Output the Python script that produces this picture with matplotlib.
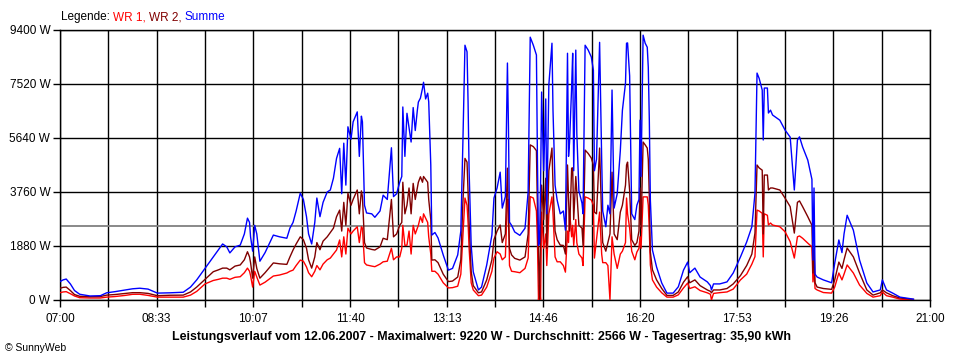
#!/usr/bin/env python3

import matplotlib.pyplot as plt

# Leistungsverlauf 12.06.2007, values (W)
TIMES = [
    "07:00", "07:03", "07:06", "07:10", "07:14", "07:19", "07:29", "07:39", "07:45", "07:53",
    "08:03", "08:10", "08:17", "08:25", "08:34", "08:46", "08:59", "09:06", "09:12", "09:20",
    "09:28", "09:33", "09:37", "09:41", "09:44", "09:49", "09:54", "09:58", "10:01", "10:03",
    "10:04", "10:06", "10:08", "10:10", "10:13", "10:18", "10:26", "10:32", "10:39", "10:42",
    "10:45", "10:48", "10:52", "10:55", "10:58", "11:00", "11:03", "11:06", "11:08", "11:11",
    "11:14", "11:18", "11:21", "11:24", "11:27", "11:30", "11:32", "11:34", "11:36", "11:38",
    "11:41", "11:43", "11:47", "11:49", "11:51", "11:52", "11:54", "11:56", "12:01", "12:04",
    "12:09", "12:12", "12:16", "12:20", "12:22", "12:25", "12:28", "12:30", "12:31", "12:33",
    "12:35", "12:37", "12:39", "12:41", "12:43", "12:45", "12:46", "12:48", "12:50", "12:51",
    "12:53", "12:55", "12:56", "12:58", "12:59", "13:02", "13:05", "13:10", "13:15", "13:19",
    "13:24", "13:27", "13:29", "13:31", "13:33", "13:34", "13:35", "13:37", "13:39", "13:44",
    "13:47", "13:52", "13:57", "13:59", "14:02", "14:05", "14:07", "14:10", "14:12", "14:13",
    "14:14", "14:16", "14:19", "14:24", "14:29", "14:32", "14:34", "14:37", "14:40", "14:41",
    "14:42", "14:43", "14:44", "14:45", "14:47", "14:49", "14:50", "14:52", "14:55", "14:56",
    "14:58", "15:00", "15:03", "15:06", "15:08", "15:10", "15:11", "15:12", "15:14", "15:15",
    "15:16", "15:18", "15:19", "15:21", "15:24", "15:25", "15:27", "15:30", "15:33", "15:35",
    "15:36", "15:38", "15:41", "15:43", "15:44", "15:47", "15:49", "15:51", "15:53", "15:55",
    "15:58", "16:01", "16:03", "16:06", "16:07", "16:08", "16:10", "16:12", "16:15", "16:17",
    "16:19", "16:20", "16:21", "16:23", "16:25", "16:27", "16:28", "16:29", "16:30", "16:32",
    "16:36", "16:41", "16:46", "16:52", "16:57", "17:02", "17:06", "17:08", "17:13", "17:18",
    "17:25", "17:28", "17:29", "17:31", "17:37", "17:44", "17:50", "17:57", "18:03", "18:08",
    "18:11", "18:13", "18:15", "18:18", "18:19", "18:20", "18:23", "18:24", "18:26", "18:28",
    "18:35", "18:40", "18:45", "18:49", "18:52", "18:54", "18:57", "19:02", "19:06", "19:07",
    "19:08", "19:09", "19:11", "19:17", "19:25", "19:28", "19:32", "19:35", "19:37", "19:40",
    "19:46", "19:52", "19:59", "20:05", "20:12", "20:14", "20:18", "20:24", "20:31", "20:44",
]

WR1 = [
    255, 280, 290, 220, 140, 80, 70, 70, 100, 120,
    160, 198, 200, 160, 100, 100, 100, 170, 300, 560,
    680, 720, 760, 760, 720, 790, 810, 950, 1110, 1000,
    850, 450, 1000, 800, 520, 620, 835, 870, 940, 1000,
    1040, 1200, 1390, 1350, 1150, 950, 810, 1000, 1200, 1050,
    1250, 1400, 1460, 1600, 1740, 2090, 1500, 2200, 1600, 2500,
    2300, 2400, 2550, 2000, 2550, 2500, 1300, 1220, 1180, 1160,
    1250, 1330, 1350, 1800, 1400, 1500, 1500, 1800, 2600, 1900,
    1910, 2400, 1600, 2600, 2300, 2500, 2600, 2900, 2700, 3000,
    2850, 2700, 2200, 1600, 1000, 1000, 900, 600, 420, 430,
    480, 900, 2200, 3550, 3300, 2700, 1800, 600, 350, 150,
    170, 450, 1000, 1460, 1680, 1600, 1400, 1500, 3500, 3500,
    1200, 1000, 985, 950, 1100, 1460, 3600, 3550, 3100, 2000,
    0, 500, 0, 3060, 1800, 2300, 1200, 3000, 3590, 3000,
    1500, 1330, 1330, 1200, 970, 2400, 2000, 3100, 2200, 2600,
    1900, 2800, 2000, 1600, 1460, 1200, 3590, 3550, 3480, 3300,
    1460, 2100, 3060, 1600, 1300, 1300, 1200, 0, 2200, 1600,
    1100, 1600, 1700, 2000, 3550, 3000, 2500, 1700, 1400, 1670,
    1800, 2200, 1800, 3590, 3590, 3590, 3300, 2400, 1220, 700,
    450, 250, 100, 100, 180, 420, 590, 400, 460, 330,
    250, 200, 0, 230, 255, 280, 380, 700, 900, 1250,
    1510, 3130, 3100, 3020, 1500, 3000, 2950, 2610, 2680, 2610,
    2550, 2380, 2030, 1460, 2200, 2230, 2150, 1980, 1850, 630,
    1100, 400, 350, 260, 240, 450, 940, 700, 900, 1220,
    940, 520, 230, 100, 150, 280, 150, 100, 30, 0,
]

WR2 = [
    407, 440, 450, 330, 190, 130, 115, 120, 170, 190,
    230, 255, 255, 230, 150, 165, 170, 280, 450, 720,
    985, 1050, 1110, 1110, 1050, 1180, 1220, 1400, 1680, 1500,
    1300, 760, 1500, 1100, 760, 950, 1290, 1260, 1240, 1500,
    1740, 1950, 2200, 2100, 1800, 1400, 1110, 1500, 2000, 1750,
    2050, 2200, 2350, 2500, 2900, 3130, 2400, 3400, 2600, 3720,
    3300, 3500, 3830, 3000, 3800, 3600, 2000, 1810, 1760, 1740,
    1850, 2150, 2100, 3500, 2200, 2300, 2600, 2700, 4100, 3000,
    3300, 3900, 3000, 4060, 3500, 3900, 4100, 4290, 4100, 4300,
    4200, 4100, 3500, 2800, 1390, 1400, 1300, 900, 640, 660,
    800, 1400, 3400, 4930, 4800, 3800, 2700, 1000, 500, 250,
    280, 700, 1400, 2100, 2400, 2610, 2000, 2300, 4590, 2800,
    1800, 1570, 1450, 1390, 1500, 2300, 5400, 5340, 5200, 3100,
    1500, 0, 2500, 4000, 2800, 4240, 1800, 4500, 5290, 4000,
    2400, 2100, 1910, 1900, 1600, 4700, 3500, 2400, 4590, 4600,
    2800, 4300, 3760, 2600, 2500, 1900, 5220, 5100, 4940, 4700,
    3060, 3000, 5290, 2800, 2000, 1700, 2000, 2300, 4450, 2300,
    2100, 3060, 3300, 4000, 4700, 4800, 3800, 2100, 1900, 2000,
    2400, 3900, 2500, 5500, 5400, 5290, 4900, 3600, 1670, 1050,
    700, 400, 160, 160, 280, 620, 810, 600, 700, 500,
    350, 300, 250, 350, 350, 400, 560, 850, 1200, 1600,
    2330, 4700, 4600, 4520, 2300, 4350, 4350, 3830, 3900, 3900,
    3830, 3550, 3250, 2330, 3400, 3450, 3250, 2900, 2600, 940,
    1800, 600, 450, 400, 370, 700, 1320, 1100, 1400, 1810,
    1500, 940, 350, 170, 250, 350, 250, 150, 70, 20,
]

SUMME = [
    640, 700, 730, 560, 330, 200, 140, 150, 250, 290,
    350, 390, 410, 380, 240, 250, 270, 450, 700, 1100,
    1500, 1750, 1950, 1850, 1640, 1850, 1910, 2300, 2850, 2700,
    2200, 1700, 2600, 2300, 1350, 1650, 2260, 2200, 2150, 2500,
    2700, 3100, 3720, 3500, 2900, 2300, 1950, 2700, 3550, 2900,
    3400, 3760, 3830, 4240, 4930, 5280, 3700, 5460, 4000, 6030,
    5600, 6200, 6550, 5000, 6400, 6200, 3300, 3030, 3000, 2880,
    3100, 3650, 3500, 5300, 3600, 3700, 4100, 4300, 6720, 5000,
    6500, 6000, 5500, 6700, 5900, 6600, 6890, 7030, 7370, 7580,
    7000, 7200, 6900, 4700, 2260, 2350, 2160, 1570, 1040, 1100,
    1570, 2400, 5500, 8870, 8640, 6890, 4500, 1900, 980, 350,
    450, 1220, 2260, 3550, 3900, 4450, 3200, 3600, 8250, 6000,
    2710, 2600, 2370, 2250, 2500, 3760, 9150, 8870, 8530, 4800,
    1900, 2000, 4000, 7240, 4500, 7000, 3000, 7500, 8940, 6600,
    4000, 3480, 3000, 3100, 2430, 8590, 5000, 5500, 7420, 8590,
    4500, 8700, 5800, 3800, 3370, 3000, 8870, 8700, 8460, 8000,
    4500, 4900, 8970, 4900, 3100, 2550, 3300, 3000, 7310, 3200,
    3700, 5200, 6600, 7550, 8940, 8950, 7800, 3000, 2800, 3300,
    3500, 6260, 4300, 9220, 8940, 8800, 8100, 6260, 3480, 1740,
    1150, 590, 240, 240, 460, 1040, 1320, 950, 1110, 800,
    630, 500, 350, 560, 560, 630, 940, 1500, 2020, 2550,
    3710, 7900, 7720, 7310, 5570, 7380, 7380, 6510, 6610, 6440,
    6260, 5920, 5670, 3830, 5570, 5680, 5330, 4870, 4200, 1390,
    3900, 900, 800, 700, 600, 1280, 2090, 1650, 2300, 2950,
    2430, 1390, 590, 280, 350, 700, 350, 240, 100, 30,
]

Y_TICKS = [0, 1880, 3760, 5640, 7520, 9400]
X_TICK_LABELS = ["07:00", "08:33", "10:07", "11:40", "13:13",
                 "14:46", "16:20", "17:53", "19:26", "21:00"]
AVERAGE = 2566
TITLE = ("Leistungsverlauf vom 12.06.2007 - Maximalwert: 9220 W - "
         "Durchschnitt: 2566 W - Tagesertrag: 35,90 kWh")

FONT = "Liberation Sans"


def to_minutes(hhmm):
    h, m = hhmm.split(":")
    return int(h) * 60 + int(m)


def main():
    minutes = [to_minutes(t) for t in TIMES]

    fig = plt.figure(figsize=(9.6, 3.6), dpi=100)
    ax = fig.add_axes([60 / 960, 60 / 360, 870 / 960, 270 / 360])

    start, end = 7 * 60, 21 * 60
    step = (end - start) / 9
    major = [start + i * step for i in range(10)]
    minor = [start + (i + 0.5) * step for i in range(9)]

    ax.set_xlim(start, end)
    ax.set_ylim(0, 9400)
    ax.set_xticks(major, X_TICK_LABELS)
    ax.set_xticks(minor, minor=True)
    ax.set_yticks(Y_TICKS, [f"{v} W" for v in Y_TICKS])

    ax.grid(which="both", axis="x", color="black", linewidth=1.0, zorder=1)
    ax.grid(which="major", axis="y", color="black", linewidth=1.0, zorder=1)
    ax.set_axisbelow(True)
    ax.axhline(AVERAGE, color="#808080", linewidth=1.3, zorder=1.5)

    ax.plot(minutes, WR1, color="#ff0000", linewidth=1.0, zorder=3)
    ax.plot(minutes, WR2, color="#800000", linewidth=1.0, zorder=3)
    ax.plot(minutes, SUMME, color="#0000ff", linewidth=1.0, zorder=3)

    ax.tick_params(which="both", direction="out", length=5, width=1.0, color="black")
    ax.tick_params(axis="x", pad=4)
    ax.tick_params(axis="y", pad=2)
    for lbl in ax.get_xticklabels() + ax.get_yticklabels():
        lbl.set_fontfamily(FONT)
        lbl.set_fontsize(8.5)
    for spine in ax.spines.values():
        spine.set_color("black")
        spine.set_linewidth(1.0)

    # legend line at the top, coloured word by word
    renderer = fig.canvas.get_renderer()
    x = 61 / 960
    for part, color in [("Legende: ", "black"), ("WR 1, ", "#ff0000"),
                        ("WR 2, ", "#800000"), ("Summe", "#0000ff")]:
        t = fig.text(x, 1 - 17 / 360, part, color=color, fontsize=8.5,
                     family=FONT, va="center", ha="left")
        x += t.get_window_extent(renderer).width / fig.bbox.width

    fig.text(481 / 960, 1 - 337 / 360, TITLE, fontsize=8.9, family=FONT,
             fontweight="bold", ha="center", va="center")
    fig.text(5 / 960, 1 - 348 / 360, "© SunnyWeb", fontsize=7.5, family=FONT,
             ha="left", va="center")

    fig.savefig("out.png", dpi=100)
    plt.close(fig)


if __name__ == "__main__":
    main()
